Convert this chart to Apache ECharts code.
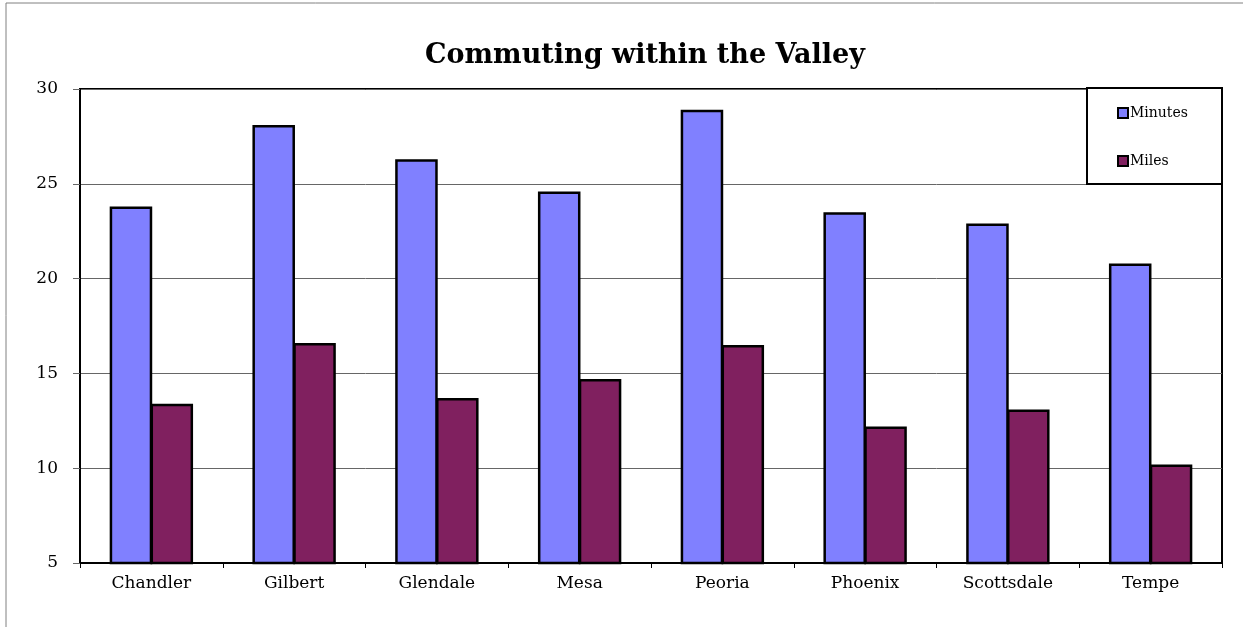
<!DOCTYPE html>
<html>
<head>
<meta charset="utf-8">
<script src="https://cdn.jsdelivr.net/npm/echarts@6/dist/echarts.min.js"></script>
<style>
html,body{margin:0;padding:0;background:#fff;}
#chart{width:1243px;height:627px;}
</style>
</head>
<body>
<div id="chart"></div>
<script>
const titleText = 'Commuting within the Valley';
const categories = ['Chandler','Gilbert','Glendale','Mesa','Peoria','Phoenix','Scottsdale','Tempe'];
const minutes = [23.8, 28.1, 26.3, 24.6, 28.9, 23.5, 22.9, 20.8];
const miles = [13.4, 16.6, 13.7, 14.7, 16.5, 12.2, 13.1, 10.2];
const seriesNames = ['Minutes', 'Miles'];
const yMin = 5, yMax = 30, yStep = 5;

const FONT = '"DejaVu Serif", "Liberation Serif", serif';
const chart = echarts.init(document.getElementById('chart'), null, {renderer: 'canvas'});
chart.setOption({
  backgroundColor: '#fff',
  animation: false,
  title: {
    text: titleText,
    left: 420, top: 37,
    textStyle: {fontFamily: FONT, fontWeight: 'bold', fontSize: 27, color: '#000'}
  },
  graphic: [
    {type: 'rect', shape: {x: 6, y: 3, width: 1300, height: 700},
     style: {fill: 'none', stroke: '#808080', lineWidth: 1}, silent: true},
    {type: 'rect', z: 10, shape: {x: 1087, y: 88, width: 135, height: 96},
     style: {fill: '#fff', stroke: '#000', lineWidth: 2}, silent: true}
  ],
  legend: {
    orient: 'vertical',
    left: 1112, top: 101,
    z: 20,
    itemWidth: 10, itemHeight: 10, itemGap: 34,
    icon: 'rect',
    itemStyle: {borderColor: '#000', borderWidth: 2},
    textStyle: {fontFamily: FONT, fontSize: 14, color: '#000', padding: [0, 0, 0, -3], lineHeight: 14},
    data: seriesNames
  },
  grid: {
    left: 80, right: 21, top: 89, bottom: 64,
    show: true, borderColor: '#000', borderWidth: 2, backgroundColor: '#fff'
  },
  xAxis: {
    type: 'category',
    data: categories,
    axisLine: {lineStyle: {color: '#000', width: 2}},
    axisTick: {show: true, inside: false, length: 5, alignWithLabel: false, lineStyle: {color: '#000'}},
    axisLabel: {fontFamily: FONT, fontSize: 17, color: '#000', margin: 12}
  },
  yAxis: {
    type: 'value',
    min: yMin, max: yMax, interval: yStep,
    axisLine: {show: true, lineStyle: {color: '#000', width: 2}},
    axisTick: {show: true, length: 7, lineStyle: {color: '#666'}},
    axisLabel: {fontFamily: FONT, fontSize: 17, color: '#000', margin: 22},
    splitLine: {lineStyle: {color: '#666', width: 1}}
  },
  series: [
    {name: seriesNames[0], type: 'bar', data: minutes, barWidth: '29.8%', barGap: '-4%',
     itemStyle: {color: '#8080FF', borderColor: '#000', borderWidth: 2.5}},
    {name: seriesNames[1], type: 'bar', data: miles, barWidth: '29.8%',
     itemStyle: {color: '#80205F', borderColor: '#000', borderWidth: 2.5}}
  ]
});
</script>
</body>
</html>
